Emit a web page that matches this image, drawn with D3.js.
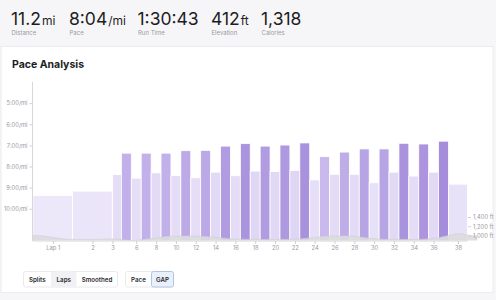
<!DOCTYPE html>
<html>
<head>
<meta charset="utf-8">
<script src="https://cdn.jsdelivr.net/npm/d3@7"></script>
<style>
  html, body { margin: 0; padding: 0; background: #f6f6f8; }
  svg { display: block; font-family: Inter, "Noto Sans", sans-serif; }
</style>
</head>
<body>
<svg id="chart" width="496" height="300"></svg>
<script>
// ---- Data ----
const statValues = ["11.2", "8:04", "1:30:43", "412", "1,318"];
const statUnits  = ["mi", "/mi", "", "ft", ""];
const statLabels = ["Distance", "Pace", "Run Time", "Elevation", "Calories"];

const lapNumbers = d3.range(1, 39);
const lapDistances = [1.0, 1.0, 0.01, 0.22,
  0.25, 0.25, 0.25, 0.25, 0.25, 0.25, 0.25, 0.25, 0.25, 0.25,
  0.25, 0.25, 0.25, 0.25, 0.25, 0.25, 0.25, 0.25, 0.25, 0.25,
  0.25, 0.25, 0.25, 0.25, 0.25, 0.25, 0.25, 0.25, 0.25, 0.25,
  0.25, 0.25, 0.25, 0.48];
// GAP pace in seconds per mile
const lapPaces = [562, 550, 540, 503,
  442, 513, 442, 498, 442, 506, 435, 512, 434, 496,
  422, 506, 415, 493, 422, 494, 419, 491, 413, 518,
  452, 502, 439, 502, 430, 526, 430, 496, 414, 507,
  416, 496, 408, 530];
const lapTickLabels = [1, 2, 3, 6, 8, 10, 12, 14, 16, 18, 20, 22, 24, 26, 28, 30, 32, 34, 36, 38];

const paceTicks = [300, 360, 420, 480, 540, 600];

const elevDistances = [0, 0.25, 0.5, 1, 1.5, 2, 2.5, 3, 3.5, 4, 4.5, 5, 5.5, 6, 6.5, 7, 7.5, 8, 8.5, 9, 9.5, 10, 10.5, 10.75, 11, 11.21];
const elevFeet      = [1000, 990, 957, 914, 914, 925, 892, 935, 985, 989, 968, 925, 914, 914, 914, 946, 989, 989, 935, 914, 914, 925, 1000, 1043, 1000, 989];
const elevTicks = [1000, 1200, 1400];

const buttonGroups = [["Splits", "Laps", "Smoothed"], ["Pace", "GAP"]];
const activeButtons = ["Laps", "GAP"];

// ---- Layout ----
const svg = d3.select("#chart");

// header band
svg.append("rect").attr("x", 0).attr("y", 0).attr("width", 496).attr("height", 46).attr("fill", "#f6f6f8");
// card
svg.append("rect").attr("x", 1).attr("y", 46.5).attr("width", 492).attr("height", 246)
  .attr("fill", "#fff").attr("stroke", "#ececf0").attr("stroke-width", 1);

const statX = [11, 69, 137.5, 211, 261];
statValues.forEach((v, i) => {
  const t = svg.append("text").attr("x", statX[i]).attr("y", 25).attr("fill", "#1d1d1f");
  t.append("tspan").attr("font-size", 17.5).text(v);
  if (statUnits[i]) t.append("tspan").attr("font-size", 12).attr("dx", 1).text(statUnits[i]);
  svg.append("text").attr("x", statX[i] + 0.5).attr("y", 35).attr("font-size", 6).attr("fill", "#9a9aa0").text(statLabels[i]);
});

svg.append("text").attr("x", 12).attr("y", 68).attr("font-size", 10.5).attr("font-weight", 700)
  .attr("fill", "#1d1d1f").text("Pace Analysis");

// scales
const cum = [];
let acc = 0;
lapDistances.forEach(d => { cum.push(acc); acc += d; });
const total = acc;
const x = d3.scaleLinear().domain([0, total]).range([33, 467.5]);
const y = d3.scaleLinear().domain([240, 690]).range([82, 240.5]);
const yE = d3.scaleLinear().domain([890, 1400]).range([240.5, 217]);
const color = d3.scaleLinear().domain([408, 445, 500, 560])
  .range(["#a58ddb", "#c4b3ea", "#e4dcf6", "#ece7f9"]).clamp(true);

const laps = lapNumbers.map((n, i) => ({ n, start: cum[i], dist: lapDistances[i], pace: lapPaces[i] }));

// bars
svg.append("g").selectAll("rect").data(laps).join("rect")
  .attr("x", d => x(d.start))
  .attr("width", d => Math.max(0, x(d.start + d.dist) - x(d.start)))
  .attr("y", d => y(d.pace))
  .attr("height", d => y.range()[1] - y(d.pace))
  .attr("fill", d => color(d.pace))
  .attr("stroke", "#fff").attr("stroke-width", 0.8);

// elevation area
const elevPts = elevDistances.map((d, i) => ({ d, e: elevFeet[i] }));
svg.append("path").datum(elevPts)
  .attr("d", d3.area().x(p => x(p.d)).y0(240.5).y1(p => yE(p.e)).curve(d3.curveMonotoneX))
  .attr("fill", "#dcdcde").attr("fill-opacity", 0.9);
svg.append("path").datum(elevPts)
  .attr("d", d3.line().x(p => x(p.d)).y(p => yE(p.e)).curve(d3.curveMonotoneX))
  .attr("fill", "none").attr("stroke", "#cfcfd3").attr("stroke-width", 0.6);

// left axis
const fmtPace = s => `${Math.floor(s / 60)}:${String(s % 60).padStart(2, "0")}/mi`;
const gy = svg.append("g").attr("transform", "translate(32.5,0)")
  .call(d3.axisLeft(y).tickValues(paceTicks).tickFormat(fmtPace).tickSize(3).tickPadding(2));
gy.select(".domain").attr("stroke", "#d8d8dc").attr("d", "M0,82V241");
gy.selectAll(".tick line").attr("stroke", "#d0d0d4");
gy.selectAll(".tick text").attr("fill", "#9a9aa0").attr("font-size", 5.8).attr("font-family", "Inter, sans-serif");

// bottom axis (lap labels at lap centres)
const tickLaps = laps.filter(l => lapTickLabels.includes(l.n));
const gx = svg.append("g").attr("transform", "translate(0,241)")
  .call(d3.axisBottom(x).tickValues(tickLaps.map(l => l.start + l.dist / 2))
    .tickFormat((v, i) => i === 0 ? `Lap ${tickLaps[i].n}` : String(tickLaps[i].n))
    .tickSize(3).tickPadding(2));
gx.select(".domain").attr("stroke", "#d8d8dc").attr("d", "M33,0H467.5");
gx.selectAll(".tick line").attr("stroke", "#d0d0d4");
gx.selectAll(".tick text").attr("fill", "#9a9aa0").attr("font-size", 5.8).attr("font-family", "Inter, sans-serif");

// right elevation axis
const gr = svg.append("g").attr("transform", "translate(468,0)")
  .call(d3.axisRight(yE).tickValues(elevTicks).tickFormat(v => `${d3.format(",")(v)} ft`).tickSize(3).tickPadding(2));
gr.select(".domain").remove();
gr.selectAll(".tick line").attr("stroke", "#d0d0d4");
gr.selectAll(".tick text").attr("fill", "#9a9aa0").attr("font-size", 5.8).attr("font-family", "Inter, sans-serif");

// buttons
const groupX = [23.5, 125.5];
const segWidths = [[27.5, 25.5, 41], [26, 22]];
buttonGroups.forEach((grp, gi) => {
  const g = svg.append("g").attr("transform", `translate(${groupX[gi]},271.5)`);
  const totalW = d3.sum(segWidths[gi]);
  g.append("rect").attr("width", totalW).attr("height", 15.5).attr("rx", 2)
    .attr("fill", "#fff").attr("stroke", "#e4e4e8").attr("stroke-width", 0.8);
  let off = 0;
  grp.forEach((name, k) => {
    const w = segWidths[gi][k];
    const active = activeButtons.includes(name);
    if (active) {
      if (gi === 1) {
        g.append("rect").attr("x", off).attr("width", w).attr("height", 15.5).attr("rx", 2)
          .attr("fill", "#eaf0fa").attr("stroke", "#a9bfe0").attr("stroke-width", 0.9);
      } else {
        g.append("rect").attr("x", off).attr("width", w).attr("height", 15.5).attr("fill", "#f1f1f4");
      }
    }
    g.append("text").attr("x", off + w / 2).attr("y", 10.2).attr("text-anchor", "middle")
      .attr("font-size", 6.2).attr("font-weight", 600).attr("fill", "#2b2b30").text(name);
    off += w;
  });
});
</script>
</body>
</html>
